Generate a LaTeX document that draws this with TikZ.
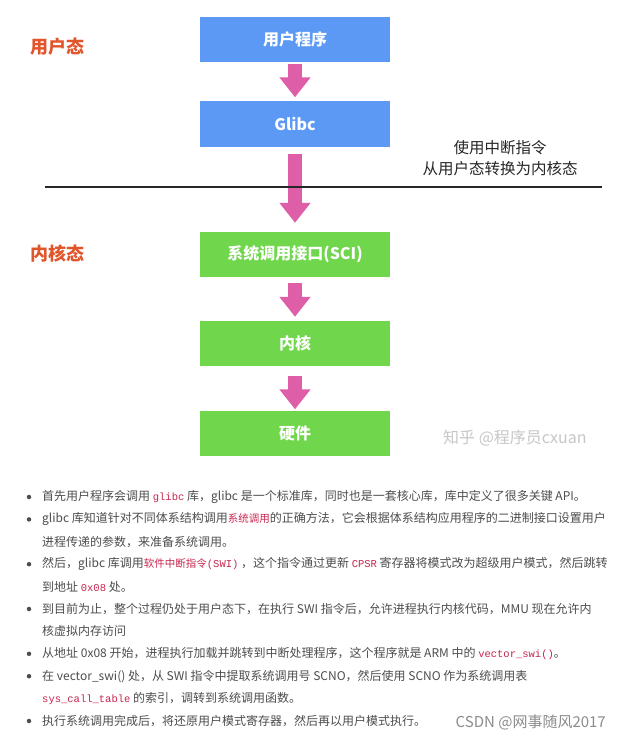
\documentclass[tikz,border=0pt]{standalone}
\usepackage{fontspec}
\setmainfont{Noto Sans CJK SC}
\newfontfamily\codefont{Liberation Mono}
\usetikzlibrary{arrows.meta}
\definecolor{boxblue}{HTML}{5B99F5}
\definecolor{boxgreen}{HTML}{70D64C}
\definecolor{arrowpink}{HTML}{DE5FA8}
\definecolor{labelred}{HTML}{E2552B}
\definecolor{bodygray}{HTML}{4D4D4D}
\definecolor{codepink}{HTML}{C7254E}
\newcommand{\cd}[1]{{\codefont\fontsize{10.5}{13}\selectfont\color{codepink}#1}}
\newcommand{\pk}[1]{{\fontsize{10.5}{13}\selectfont\color{codepink}#1}}
\tikzset{
  box/.style={minimum width=190pt, minimum height=45pt, inner sep=0pt, text=white,
    font=\fontsize{16}{18}\selectfont\bfseries},
  bluebox/.style={box, fill=boxblue},
  greenbox/.style={box, fill=boxgreen},
  flow/.style={line width=14pt, draw=arrowpink, -{Triangle[width=30pt,length=20pt]}},
  statelabel/.style={font=\fontsize{18}{20}\selectfont\bfseries, text=labelred},
  body/.style={anchor=west, inner sep=0pt, text=bodygray, font=\fontsize{12}{14}\selectfont},
  dot/.style={circle, fill=bodygray, inner sep=0pt, minimum size=4.5pt},
}
\begin{document}
\begin{tikzpicture}[x=1pt,y=-1pt]
\useasboundingbox[fill=white] (0,0) rectangle (620,741);
% boxes
\node[bluebox] (prog) at (295,39.5) {用户程序};
\node[bluebox] (glibc) at (295,124) {Glibc};
\node[greenbox] (sci) at (295,254.5) {系统调用接口(SCI)};
\node[greenbox] (kern) at (295,343.5) {内核};
\node[greenbox] (hw) at (295,433) {硬件};
% arrows
\draw[flow] ([yshift=-2pt]prog.south) -- ([yshift=4pt]glibc.north);
\draw[flow] ([yshift=-7pt]glibc.south) -- ([yshift=9pt]sci.north);
\draw[flow] ([yshift=-6pt]sci.south) -- ([yshift=4pt]kern.north);
\draw[flow] ([yshift=-10pt]kern.south) -- ([yshift=1pt]hw.north);
% separator
\coordinate (sepL) at (45,187);
\coordinate (sepR) at (602,187);
\draw[line width=1.2pt, black!85] (sepL) -- (sepR);
% labels
\node[statelabel] (user) at (57,47) {用户态};
\node[statelabel] (kernel) at (57,254) {内核态};
\node[align=center, font=\fontsize{15.5}{21}\selectfont, text=black!85] (note) at (500,158.5) {使用中断指令\\从用户态转换为内核态};
% watermark
\node[font=\fontsize{16}{18}\selectfont, text=black!22, anchor=west, inner sep=0pt] (zhihu) at (443,438) {知乎 @程序员cxuan};
% bullets
\node[dot] (d1) at (29,497) {};
\node[body] (t1) at (42,497) {首先用户程序会调用 \cd{glibc} 库，glibc 是一个标准库，同时也是一套核心库，库中定义了很多关键 API。};
\node[dot] (d2) at (29,519.4) {};
\node[body] (t2) at (42,519.4) {glibc 库知道针对不同体系结构调用\pk{系统调用}的正确方法，它会根据体系结构应用程序的二进制接口设置用户};
\node[body] (t2b) at (42,541.8) {进程传递的参数，来准备系统调用。};
\node[dot] (d3) at (29,564.2) {};
\node[body] (t3) at (42,564.2) {然后，glibc 库调用\pk{软件中断指令}\cd{(SWI)} ，这个指令通过更新 \cd{CPSR} 寄存器将模式改为超级用户模式，然后跳转};
\node[body] (t3b) at (42,586.6) {到地址 \cd{0x08} 处。};
\node[dot] (d4) at (29,609) {};
\node[body] (t4) at (42,609) {到目前为止，整个过程仍处于用户态下，在执行 SWI 指令后，允许进程执行内核代码，MMU 现在允许内};
\node[body] (t4b) at (42,631.4) {核虚拟内存访问};
\node[dot] (d5) at (29,653.8) {};
\node[body] (t5) at (42,653.8) {从地址 0x08 开始，进程执行加载并跳转到中断处理程序，这个程序就是 ARM 中的 \cd{vector\_swi()}。};
\node[dot] (d6) at (29,676.2) {};
\node[body] (t6) at (42,676.2) {在 vector\_swi() 处，从 SWI 指令中提取系统调用号 SCNO，然后使用 SCNO 作为系统调用表};
\node[body] (t6b) at (42,698.6) {\cd{sys\_call\_table} 的索引，调转到系统调用函数。};
\node[dot] (d7) at (29,721) {};
\node[body] (t7) at (42,721) {执行系统调用完成后，将还原用户模式寄存器，然后再以用户模式执行。};
\node[font=\fontsize{15}{17}\selectfont, text=black!45, anchor=east, inner sep=0pt] (csdn) at (606,722) {CSDN @网事随风2017};
\end{tikzpicture}
\end{document}
